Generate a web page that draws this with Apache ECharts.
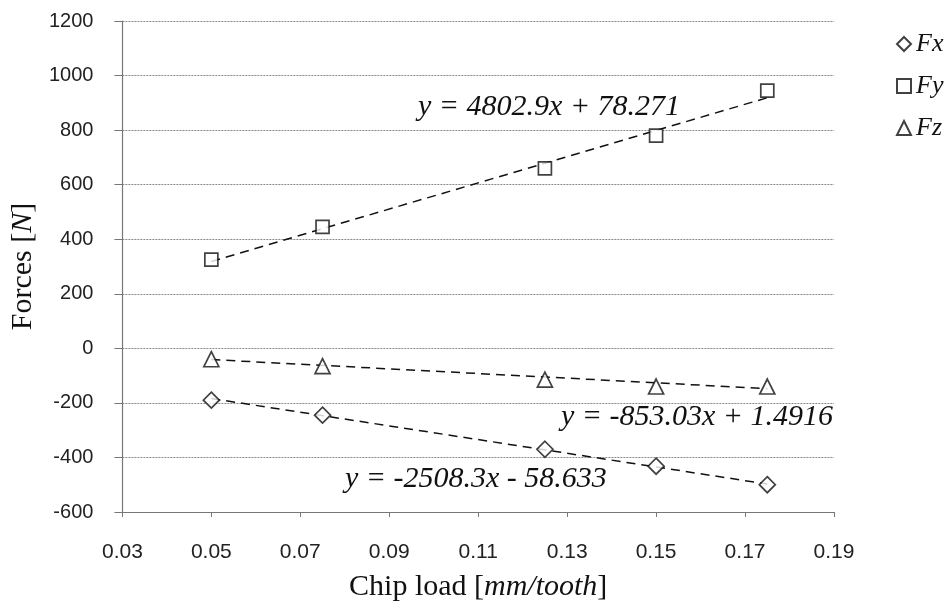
<!DOCTYPE html>
<html lang="en">
<head>
    <meta charset="UTF-8">
    <title>Chip load forces</title>
    <style>
        html, body { margin: 0; padding: 0; background: #fff; }
        #chart { width: 951px; height: 607px; }
    </style>
</head>
<body>
<div id="chart"></div>
<script src="https://cdn.jsdelivr.net/npm/echarts@6/dist/echarts.min.js"></script>
<script type="text/javascript">
    // chip load values (mm/tooth)
    var chipLoad = [0.05, 0.075, 0.125, 0.15, 0.175];
    // measured forces (N)
    var fx = [-190, -245, -370, -432, -500];
    var fy = [325, 445, 660, 780, 945];
    var fz = [-40, -65, -115, -140, -140];
    // linear trend lines shown on the chart: [slope, intercept]
    var fitFx = [-2508.3, -58.633];
    var fitFy = [4802.9, 78.271];
    var fitFz = [-853.03, 1.4916];
    var xTicks = [0.03, 0.05, 0.07, 0.09, 0.11, 0.13, 0.15, 0.17, 0.19];
    var xTickLabels = ['0.03', '0.05', '0.07', '0.09', '0.11', '0.13', '0.15', '0.17', '0.19'];

    var serif = '"Liberation Serif", "DejaVu Serif", serif';
    var sans = '"Liberation Sans", Arial, sans-serif';

    function pairs(xs, ys) {
        var out = [];
        for (var i = 0; i < xs.length; i++) out.push([xs[i], ys[i]]);
        return out;
    }
    function trend(fit) {  // endpoints of the fitted line over the data range
        var a = chipLoad[0], b = chipLoad[chipLoad.length - 1];
        return [[a, fit[0] * a + fit[1]], [b, fit[0] * b + fit[1]]];
    }
    function markerSeries(name, data, symbol, size) {
        return {
            name: name, type: 'scatter', data: pairs(chipLoad, data),
            symbol: symbol, symbolSize: size, z: 5,
            itemStyle: { color: '#fff', borderColor: '#111', borderWidth: 1.7 }
        };
    }
    function trendSeries(fit) {
        return {
            type: 'line', data: trend(fit), symbol: 'none', silent: true, z: 3,
            lineStyle: { color: '#111', width: 1.5, type: [9, 6] }
        };
    }

    var chart = echarts.init(document.getElementById('chart'));
    var eqStyle = { fontFamily: serif, fontStyle: 'italic', fontSize: 30, fill: '#111' };
    var nameRich = {
        n: { fontFamily: serif, fontSize: 30, color: '#111' },
        i: { fontFamily: serif, fontSize: 30, fontStyle: 'italic', color: '#111' }
    };
    var option = {
        animation: false,
        backgroundColor: '#fff',
        grid: { left: 122, right: 117, top: 21, bottom: 95 },
        legend: {
            orient: 'vertical', left: 891, top: 26, itemGap: 16,
            itemWidth: 14, itemHeight: 14,
            textStyle: { fontFamily: serif, fontStyle: 'italic', fontSize: 26, color: '#111' },
            data: ['Fx', 'Fy', 'Fz']
        },
        xAxis: {
            type: 'value', min: 0.03, max: 0.19,
            name: '{n|Chip load [}{i|mm/tooth}{n|]}',
            nameLocation: 'middle', nameGap: 60,
            nameTextStyle: { rich: nameRich },
            axisLine: { onZero: false, lineStyle: { color: '#777', width: 1.2 } },
            axisTick: { show: true, length: 5, customValues: xTicks, lineStyle: { color: '#777' } },
            axisLabel: {
                customValues: xTicks, margin: 30, fontFamily: sans, fontSize: 21, color: '#222',
                formatter: function (v) {
                    for (var i = 0; i < xTicks.length; i++) {
                        if (Math.abs(xTicks[i] - v) < 1e-9) return xTickLabels[i];
                    }
                    return '';
                }
            },
            splitLine: { show: false }
        },
        yAxis: {
            type: 'value', min: -600, max: 1200, interval: 200,
            name: '{n|Forces [}{i|N}{n|]}',
            nameLocation: 'middle', nameGap: 80,
            nameTextStyle: { rich: nameRich },
            axisLine: { show: true, lineStyle: { color: '#777', width: 1.2 } },
            axisTick: { show: true, length: 8, lineStyle: { color: '#777' } },
            axisLabel: {
                margin: 29, fontFamily: sans, fontSize: 20, color: '#222',
                formatter: function (v) { return String(v); }
            },
            splitLine: { show: true, lineStyle: { color: '#8a8a8a', width: 1, type: [2, 1] } }
        },
        graphic: [
            { type: 'text', left: 418, top: 92, style: Object.assign({ text: 'y = 4802.9x + 78.271' }, eqStyle) },
            { type: 'text', left: 561, top: 402, style: Object.assign({ text: 'y = -853.03x + 1.4916' }, eqStyle) },
            { type: 'text', left: 345, top: 464, style: Object.assign({ text: 'y = -2508.3x - 58.633' }, eqStyle) }
        ],
        series: [
            trendSeries(fitFx),
            trendSeries(fitFy),
            trendSeries(fitFz),
            markerSeries('Fx', fx, 'diamond', 16),
            markerSeries('Fy', fy, 'rect', 13),
            markerSeries('Fz', fz, 'triangle', 15)
        ]
    };
    chart.setOption(option);
</script>
</body>
</html>
